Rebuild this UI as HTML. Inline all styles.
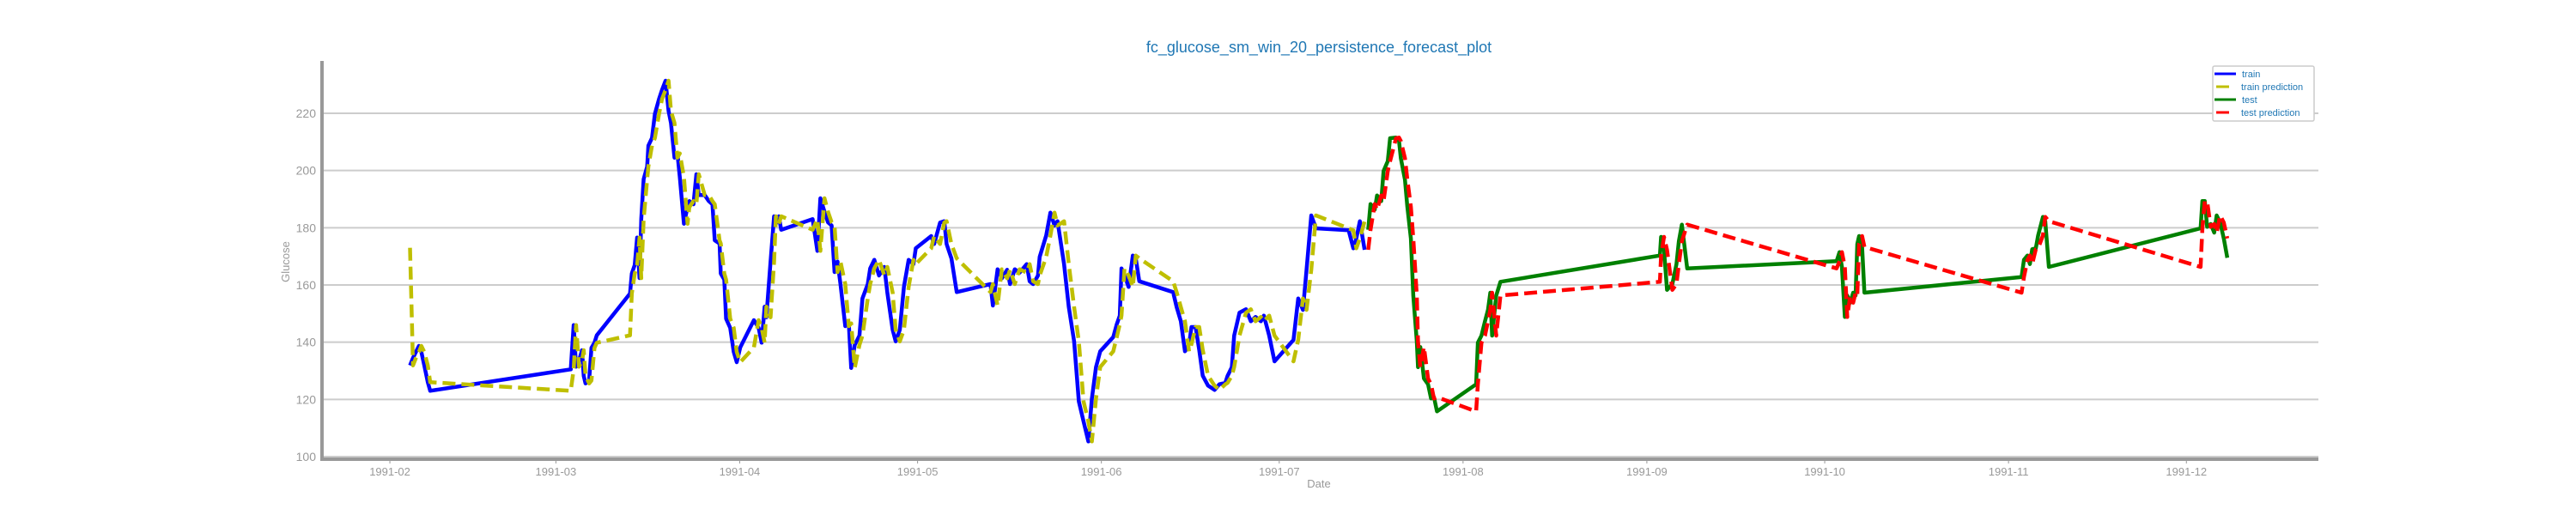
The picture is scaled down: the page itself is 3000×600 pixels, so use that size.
<!DOCTYPE html>
<html><head><meta charset="utf-8"><style>
html,body{margin:0;padding:0;background:#fff;}
svg{display:block;font-family:"Liberation Sans","DejaVu Sans",sans-serif;}
</style></head><body>
<svg id="chart" width="3000" height="600" viewBox="0 0 3000 600" xmlns="http://www.w3.org/2000/svg">
<text x="1536" y="61" text-anchor="middle" font-size="18" fill="#1f77b4">fc_glucose_sm_win_20_persistence_forecast_plot</text>
<g id="grid"></g>
<g id="yticks"></g>
<g id="xticks"></g>
<g id="series"></g>
<line x1="375" y1="71" x2="375" y2="537" stroke="#999" stroke-width="4"/>
<line x1="373" y1="535" x2="2700" y2="535" stroke="#999" stroke-width="4"/>
<text x="337" y="305" transform="rotate(-90 337 305)" text-anchor="middle" font-size="13" fill="#999">Glucose</text>
<text x="1536" y="568" text-anchor="middle" font-size="13" fill="#999">Date</text>
<g>
<rect x="2577" y="77" width="118" height="64" rx="2" fill="#fff" stroke="#ccc" stroke-width="1.5"/>
<line x1="2579" y1="86" x2="2604" y2="86" stroke="#0000ff" stroke-width="3"/>
<text x="2611" y="90" font-size="11" fill="#1f77b4">train</text>
<line x1="2581" y1="101" x2="2596" y2="101" stroke="#bfbf00" stroke-width="3"/>
<text x="2610" y="105" font-size="11" fill="#1f77b4">train prediction</text>
<line x1="2579" y1="116" x2="2604" y2="116" stroke="#008000" stroke-width="3"/>
<text x="2611" y="120" font-size="11" fill="#1f77b4">test</text>
<line x1="2581" y1="131" x2="2596" y2="131" stroke="#ff0000" stroke-width="3"/>
<text x="2610" y="135" font-size="11" fill="#1f77b4">test prediction</text>
</g>
</svg>
<script>
// day of year 1991 (0 = Jan 1)
const trainDays = [34.4,34.9,35.4,35.9,36.3,36.8,37.4,37.8,61.5,62,62.4,62.9,63.4,63.7,64,64.6,65,65.5,65.9,71.5,71.8,72.3,72.7,73.1,73.4,73.8,74.4,74.6,75.2,75.7,76.4,76.9,77.5,78,78.4,79,79.5,79.9,80.6,81.2,81.5,82.2,82.7,83.1,84.1,84.8,85.4,85.8,86.6,86.8,87.4,87.7,88.4,89,89.5,90.1,92.4,93.2,93.7,94.2,94.5,95.2,95.8,96.1,96.6,97,102.3,103.1,103.6,104.3,104.9,105.5,106,106.5,107,107.8,108.4,108.8,109.4,110.2,110.7,111.6,112,112.7,113.5,114.4,114.9,115.8,116.3,117,117.7,118.5,119.3,119.7,122.3,122.8,123.8,124.5,124.9,125.7,126.6,132.3,132.7,133.5,134.2,135.1,135.6,136.4,137.2,138.4,138.9,139.5,140.3,140.6,141.7,142.4,143.1,143.6,144.7,145.5,146.4,147.2,148,148.8,149.4,150.1,150.8,153,153.6,154.1,154.4,154.9,155.6,156.3,156.8,157.4,163.1,163.7,164.4,165.1,165.8,166.2,166.9,167.5,168.1,169,170.1,170.9,171.9,172.3,173,173.4,174.3,175.4,176.2,177,177.9,178.4,179.3,180.2,183.4,184.2,185,185.6,186.4,187.2,192.7,193.5,194,194.6,195.4];
const trainValues = [131.9,134.5,136.6,138.7,136.6,131.9,126,123,130.5,146,131.4,133.5,137.2,128.2,125.6,126.6,138,139.8,142.4,157,164,167,176.6,162.4,183,197,201.4,208.7,211.4,219.8,225,228.2,231.4,220.8,216.6,204.5,206,197.7,181.4,187.2,189.3,188.2,198.7,191.4,191.4,189.3,188.2,175.6,174.5,164,161.9,148.2,145,136.6,133,138.2,147.7,145,139.8,152.4,148.7,168.2,184,181.4,184,179.3,183,171.9,190.3,185.6,181.9,180.8,164.5,168.2,160.3,145.6,146.6,131,139,142.3,155.3,160.3,165.8,168.8,163.3,166.3,157.3,144.3,140.3,144.3,159.3,168.8,167.3,172.8,177.1,174.3,181.8,182.3,174.3,169.3,157.5,160.3,152.8,165.5,162.3,165.3,160.3,165.5,164.3,167.3,161.3,160.3,163.3,169.8,177.3,185.3,180.8,182.3,167.3,152.3,140.3,119.3,112.3,105.3,120.3,131.3,136.8,141.8,146.3,149.3,165.8,163.3,159.3,170.3,169.3,161.3,157.5,152.3,147.3,136.8,139.3,145.3,145.3,137.3,128.3,124.8,123.3,125.3,125.8,128.3,131.3,142.3,150.3,151.5,147.3,148.8,147.3,149.3,142.3,133.3,140.8,155.3,151.3,165.3,184.3,179.8,179.1,172.8,176.3,182.3,172.3];
const trainPredValues = [173,131.9,134.5,136.6,138.7,136.6,131.9,126,123,130.5,146,131.4,133.5,137.2,128.2,125.6,126.6,138,139.8,142.4,157,164,167,176.6,162.4,183,197,201.4,208.7,211.4,219.8,225,228.2,231.4,220.8,216.6,204.5,206,197.7,181.4,187.2,189.3,188.2,198.7,191.4,191.4,189.3,188.2,175.6,174.5,164,161.9,148.2,145,136.6,133,138.2,147.7,145,139.8,152.4,148.7,168.2,184,181.4,184,179.3,183,171.9,190.3,185.6,181.9,180.8,164.5,168.2,160.3,145.6,146.6,131,139,142.3,155.3,160.3,165.8,168.8,163.3,166.3,157.3,144.3,140.3,144.3,159.3,168.8,167.3,172.8,177.1,174.3,181.8,182.3,174.3,169.3,157.5,160.3,152.8,165.5,162.3,165.3,160.3,165.5,164.3,167.3,161.3,160.3,163.3,169.8,177.3,185.3,180.8,182.3,167.3,152.3,140.3,119.3,112.3,105.3,120.3,131.3,136.8,141.8,146.3,149.3,165.8,163.3,159.3,170.3,169.3,161.3,157.5,152.3,147.3,136.8,139.3,145.3,145.3,137.3,128.3,124.8,123.3,125.3,125.8,128.3,131.3,142.3,150.3,151.5,147.3,148.8,147.3,149.3,142.3,133.3,140.8,155.3,151.3,165.3,184.3,179.8,179.1,172.8,176.3,182.3];
const testDays = [196,196.4,197.1,197.5,198.2,198.6,199.3,199.7,200.7,201.2,201.5,202.2,202.6,203.2,203.6,204.2,204.4,204.8,205.4,206.1,206.6,207.1,207.6,214.2,214.5,215.1,215.7,216.2,216.6,216.9,217.6,218.3,245.2,245.4,245.9,246.4,247.3,248,248.4,248.9,249.8,275,275.5,275.9,276.4,276.8,277.3,277.8,278.2,278.5,278.8,279.3,279.7,306.2,306.6,307.2,307.6,308,308.6,309,309.8,310.2,310.8,336.4,336.7,337.1,337.5,338.1,338.7,339.1,339.7,340.3,340.9];
const testValues = [179.3,188.3,186.3,191.3,189.3,199.8,203.3,211.3,211.5,210.3,204.3,196.8,187.3,176.3,156.3,140.3,131.3,138.3,127.3,125.3,120.3,120.8,115.8,125.3,139.8,142.3,147.3,151.3,157.3,142.3,156.3,161.1,170.3,176.8,172.3,158.3,160.3,167.3,175.3,181.1,165.8,168.3,171.5,166.3,148.8,156.3,153.8,157.3,156.3,174.3,177.1,173.3,157.3,162.8,168.8,170.3,167.3,172.5,172.8,177.3,183.8,182.3,166.3,179.8,189.3,189.3,180.3,181.3,178.3,184.3,181.8,176.3,169.5];
const testPredValues = [172.3,179.3,188.3,186.3,191.3,189.3,199.8,203.3,211.3,211.5,210.3,204.3,196.8,187.3,176.3,156.3,140.3,131.3,138.3,127.3,125.3,120.3,120.8,115.8,125.3,139.8,142.3,147.3,151.3,157.3,142.3,156.3,161.1,170.3,176.8,172.3,158.3,160.3,167.3,175.3,181.1,165.8,168.3,171.5,166.3,148.8,156.3,153.8,157.3,156.3,174.3,177.1,173.3,157.3,162.8,168.8,170.3,167.3,172.5,172.8,177.3,183.8,182.3,166.3,179.8,189.3,189.3,180.3,181.3,178.3,184.3,181.8,176.3];
const yTicks = [100,120,140,160,180,200,220];
const xTickLabels = ["1991-02","1991-03","1991-04","1991-05","1991-06","1991-07","1991-08","1991-09","1991-10","1991-11","1991-12"];
const xTickDays = [31,59,90,120,151,181,212,243,273,304,334];

const NS = "http://www.w3.org/2000/svg";
function xScale(d){ return 240 + d * 6.905; }
function yScale(v){ return 532 - (v - 100) * 3.3333; }

const grid = document.getElementById('grid');
const yt = document.getElementById('yticks');
yTicks.forEach(v => {
  const y = yScale(v);
  const l = document.createElementNS(NS,'line');
  l.setAttribute('x1',375); l.setAttribute('x2',2700);
  l.setAttribute('y1',y); l.setAttribute('y2',y);
  l.setAttribute('stroke','#cccccc'); l.setAttribute('stroke-width','2');
  
  
  grid.appendChild(l);
  const t = document.createElementNS(NS,'text');
  t.setAttribute('x',368); t.setAttribute('y',y+5);
  t.setAttribute('text-anchor','end'); t.setAttribute('font-size','14'); t.setAttribute('fill','#999');
  t.textContent = v;
  
  
  yt.appendChild(t);
});
const xt = document.getElementById('xticks');
xTickLabels.forEach((lab,i) => {
  const x = xScale(xTickDays[i]);
  const tk = document.createElementNS(NS,'line');
  tk.setAttribute('x1',x); tk.setAttribute('x2',x); tk.setAttribute('y1',537); tk.setAttribute('y2',540);
  tk.setAttribute('stroke','#999'); tk.setAttribute('stroke-width','1');
  
  
  xt.appendChild(tk);
  const t = document.createElementNS(NS,'text');
  t.setAttribute('x',x); t.setAttribute('y',554);
  t.setAttribute('text-anchor','middle'); t.setAttribute('font-size','13'); t.setAttribute('fill','#999');
  t.textContent = lab;
  
  
  xt.appendChild(t);
});
const ser = document.getElementById('series');
function drawLine(days, vals, color, dash, name){
  const p = document.createElementNS(NS,'polyline');
  p.setAttribute('points', days.map((d,i)=> xScale(d).toFixed(1)+','+yScale(vals[i]).toFixed(1)).join(' '));
  p.setAttribute('fill','none'); p.setAttribute('stroke',color); p.setAttribute('stroke-width','4.5');
  p.setAttribute('stroke-linejoin','round');
  if (dash) p.setAttribute('stroke-dasharray', dash);
  
  
  ser.appendChild(p);
}
drawLine(trainDays, trainValues, '#0000ff', null, 'train-line');
drawLine(trainDays, trainPredValues, '#bfbf00', '15 7', 'train-prediction-line');
drawLine(testDays, testValues, '#008000', null, 'test-line');
drawLine(testDays, testPredValues, '#ff0000', '15 7', 'test-prediction-line');
</script>
</body></html>
